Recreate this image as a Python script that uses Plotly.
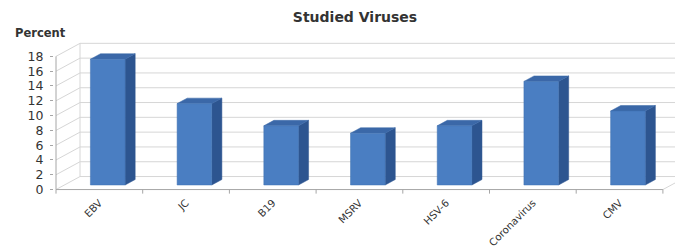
import plotly.graph_objects as go

# ---- data ----
categories = ["EBV", "JC", "B19", "MSRV", "HSV-6", "Coronavirus", "CMV"]
percent = [17, 11, 8, 7, 8, 14, 10]
y_ticks = [0, 2, 4, 6, 8, 10, 12, 14, 16, 18]

# ---- 3D projection parameters (data units) ----
DX, DY = 0.277, 1.76        # wall depth offset
F0, F1 = 0.35, 0.77         # bar front / back depth fractions
HALF_W = 0.2                # half width of bar front face
n = len(categories)
x0, xR = -0.5, n - 0.5
ymax = max(y_ticks)

FRONT = "#4a7ec2"
SIDE = "#2d5590"
TOP = "#3b68a8"
GRID = "#d6d6d6"
AXIS = "#a6a6a6"

fig = go.Figure()

def line(xs, ys, color, width=1):
    fig.add_trace(go.Scatter(x=xs, y=ys, mode="lines", line=dict(color=color, width=width),
                             hoverinfo="skip", showlegend=False))

# back wall gridlines and left-wall slants
for v in y_ticks:
    line([x0 + DX, xR + DX], [v + DY, v + DY], GRID)
    line([x0, x0 + DX], [v, v + DY], GRID)
# back wall left edge
line([x0 + DX, x0 + DX], [DY, ymax + DY], GRID)
# floor right edge
line([xR, xR + DX], [0, DY], GRID)
# front axes
line([x0, xR], [0, 0], AXIS)
line([x0, x0], [0, ymax], AXIS)
# category boundary ticks
for i in range(n + 1):
    line([x0 + i, x0 + i], [0, -0.55], AXIS)

# bars
for i, v in enumerate(percent):
    xlf = i - HALF_W + F0 * DX
    xrf = i + HALF_W + F0 * DX
    xlb = i - HALF_W + F1 * DX
    xrb = i + HALF_W + F1 * DX
    ybf, ybb = F0 * DY, F1 * DY
    ytf, ytb = v + F0 * DY, v + F1 * DY
    fig.add_trace(go.Scatter(x=[xrf, xrb, xrb, xrf, xrf], y=[ybf, ybb, ytb, ytf, ybf],
                             fill="toself", fillcolor=SIDE, mode="lines",
                             line=dict(color=SIDE, width=0.5), hoverinfo="skip", showlegend=False))
    fig.add_trace(go.Scatter(x=[xlf, xrf, xrb, xlb, xlf], y=[ytf, ytf, ytb, ytb, ytf],
                             fill="toself", fillcolor=TOP, mode="lines",
                             line=dict(color=TOP, width=0.5), hoverinfo="skip", showlegend=False))
    fig.add_trace(go.Scatter(x=[xlf, xrf, xrf, xlf, xlf], y=[ybf, ybf, ytf, ytf, ybf],
                             fill="toself", fillcolor=FRONT, mode="lines",
                             line=dict(color="#3f70b0", width=0.5), hoverinfo="skip", showlegend=False))

# page body has an 8px margin: figure is placed at (8, 8) in the window
OFF = 8
W, H = 683 - OFF, 250 - OFF
L, R, T, B = 54 - OFF, 0, 35 - OFF, 56
ux = 86.7
uy = 7.4
xs = x0 - (56 - 54) / ux
xe = xs + (W - L - R) / ux
ys = -0.6
ye = ys + (H - T - B) / uy

fig.update_layout(
    width=W, height=H,
    margin=dict(l=L, r=R, t=T, b=B, autoexpand=False),
    plot_bgcolor="white", paper_bgcolor="white",
    font=dict(family="DejaVu Sans", size=11, color="#333333"),
    title=dict(text="<b>Studied Viruses</b>", x=(355 - OFF) / W, xref="container", xanchor="center",
               y=1 - (17 - OFF) / H, yref="container", yanchor="middle",
               font=dict(family="DejaVu Sans", size=14, color="#333333")),
    xaxis=dict(range=[xs, xe], tickvals=list(range(n)), ticktext=categories, tickangle=-45,
               showgrid=False, zeroline=False, showline=False, ticks="", automargin=False,
               tickfont=dict(size=10.2, color="#333333")),
    yaxis=dict(range=[ys, ye], tickvals=y_ticks, ticks="outside", ticklen=3, tickcolor=AXIS,
               showgrid=False, zeroline=False, showline=False, ticklabelstandoff=4, automargin=False,
               tickfont=dict(size=12.5, color="#333333")),
    annotations=[dict(text="<b>Percent</b>", xref="paper", yref="paper",
                      x=(13 - 54) / (W - L - R), y=(H - B - (33 - OFF)) / (H - T - B),
                      xanchor="left", yanchor="middle", showarrow=False,
                      font=dict(family="DejaVu Sans", size=11.5, color="#333333"))],
)

fig.write_html("out.html")
